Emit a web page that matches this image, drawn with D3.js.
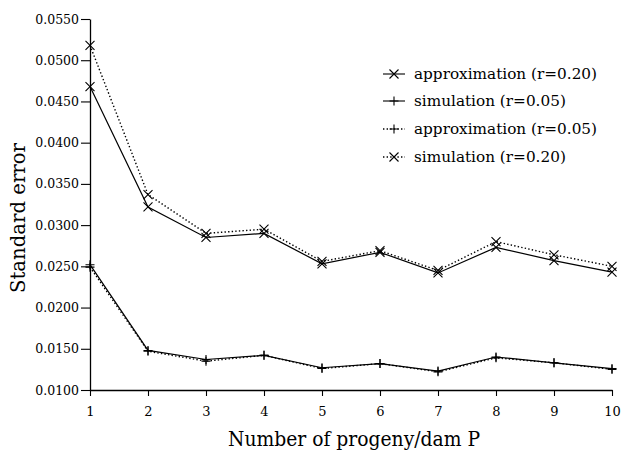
<!DOCTYPE html>
<html>
<head>
<meta charset="utf-8">
<script src="https://cdn.jsdelivr.net/npm/d3@7"></script>
<style>
  html, body { margin: 0; padding: 0; background: #fff; }
  svg { display: block; }
</style>
</head>
<body>
<svg id="chart" width="622" height="456"></svg>
<script>
const progeny = [1, 2, 3, 4, 5, 6, 7, 8, 9, 10];
const approx020 = [0.0468, 0.0322, 0.0285, 0.0290, 0.0253, 0.0267, 0.0242, 0.0273, 0.0257, 0.0243];
const sim020    = [0.0518, 0.0337, 0.0290, 0.0295, 0.0256, 0.0269, 0.0245, 0.0280, 0.0264, 0.0250];
const sim005    = [0.0252, 0.0148, 0.0137, 0.0142, 0.0127, 0.0132, 0.0123, 0.0140, 0.0133, 0.0126];
const approx005 = [0.0249, 0.0147, 0.0135, 0.0142, 0.0126, 0.0132, 0.0122, 0.0139, 0.0133, 0.0125];
const yTicks = [0.0100, 0.0150, 0.0200, 0.0250, 0.0300, 0.0350, 0.0400, 0.0450, 0.0500, 0.0550];
const xTicks = [1, 2, 3, 4, 5, 6, 7, 8, 9, 10];
const seriesNames = ["approximation (r=0.20)", "simulation (r=0.05)", "approximation (r=0.05)", "simulation (r=0.20)"];

const series = [
  { name: seriesNames[0], values: approx020, dotted: false, marker: "x" },
  { name: seriesNames[1], values: sim005, dotted: false, marker: "+" },
  { name: seriesNames[2], values: approx005, dotted: true, marker: "+" },
  { name: seriesNames[3], values: sim020, dotted: true, marker: "x" }
];

const svg = d3.select("#chart");
const x = d3.scaleLinear().domain([1, 10]).range([90, 612]);
const y = d3.scaleLinear().domain([0.01, 0.055]).range([390, 19]);

const tickFont = "DejaVu Serif";

// Y axis
const yAxis = svg.append("g").attr("transform", "translate(90,0)")
  .call(d3.axisLeft(y).tickValues(yTicks).tickFormat(d3.format(".4f")).tickSize(9).tickSizeOuter(0).tickPadding(2));
yAxis.select(".domain").attr("stroke", "#000").attr("stroke-width", 1.3);
yAxis.selectAll(".tick line").attr("stroke", "#000").attr("stroke-width", 1.1);
yAxis.selectAll(".tick text").attr("font-family", tickFont).attr("font-size", 12.5).attr("fill", "#000");

// X axis
const xAxis = svg.append("g").attr("transform", "translate(0,390)")
  .call(d3.axisBottom(x).tickValues(xTicks).tickFormat(d3.format("d")).tickSize(6).tickSizeOuter(0).tickPadding(11));
xAxis.select(".domain").attr("stroke", "#000").attr("stroke-width", 1.3);
xAxis.selectAll(".tick line").attr("stroke", "#000").attr("stroke-width", 1.1);
xAxis.selectAll(".tick text").attr("font-family", tickFont).attr("font-size", 13).attr("fill", "#000");

// Lines
const line = d3.line().x((d, i) => x(progeny[i])).y(d => y(d));
function markerPath(type, cx, cy, s) {
  if (type === "x") {
    return `M${cx - s},${cy - s}L${cx + s},${cy + s}M${cx - s},${cy + s}L${cx + s},${cy - s}`;
  }
  return `M${cx - s},${cy}L${cx + s},${cy}M${cx},${cy - s}L${cx},${cy + s}`;
}

series.forEach(s => {
  svg.append("path")
    .attr("d", line(s.values))
    .attr("fill", "none")
    .attr("stroke", "#000")
    .attr("stroke-width", s.dotted ? 1.4 : 1.2)
    .attr("stroke-dasharray", s.dotted ? "1.4,2.2" : null);
  svg.append("g").selectAll("path").data(s.values).join("path")
    .attr("d", (d, i) => markerPath(s.marker, x(progeny[i]), y(d), 4.5))
    .attr("stroke", "#000")
    .attr("stroke-width", 1.1)
    .attr("fill", "none");
});

// Legend
const legend = svg.append("g");
const legendY = [74, 101, 129, 157];
series.forEach((s, i) => {
  const g = legend.append("g").attr("transform", `translate(0,${legendY[i]})`);
  g.append("line").attr("x1", 383).attr("x2", 405).attr("y1", 0).attr("y2", 0)
    .attr("stroke", "#000").attr("stroke-width", s.dotted ? 1.4 : 1.1)
    .attr("stroke-dasharray", s.dotted ? "1.4,2.2" : null);
  g.append("path").attr("d", markerPath(s.marker, 394, 0, 4.5))
    .attr("stroke", "#000").attr("stroke-width", 1.1).attr("fill", "none");
  const t = g.append("text").attr("x", 414).attr("y", 5)
    .attr("font-family", tickFont).attr("font-size", 14).attr("fill", "#000")
    .text(s.name);
  const w = t.node().getComputedTextLength();
  t.attr("textLength", w * 1.09).attr("lengthAdjust", "spacingAndGlyphs");
});

// Axis titles
svg.append("text")
  .attr("x", 354).attr("y", 446)
  .attr("text-anchor", "middle")
  .attr("font-family", "DejaVu Serif Condensed")
  .attr("font-size", 21)
  .attr("textLength", 252)
  .attr("lengthAdjust", "spacingAndGlyphs")
  .attr("fill", "#000")
  .text("Number of progeny/dam P");

svg.append("text")
  .attr("transform", "translate(25,218) rotate(-90)")
  .attr("text-anchor", "middle")
  .attr("font-family", "DejaVu Serif Condensed")
  .attr("font-size", 21)
  .attr("textLength", 150)
  .attr("lengthAdjust", "spacingAndGlyphs")
  .attr("fill", "#000")
  .text("Standard error");
</script>
</body>
</html>
